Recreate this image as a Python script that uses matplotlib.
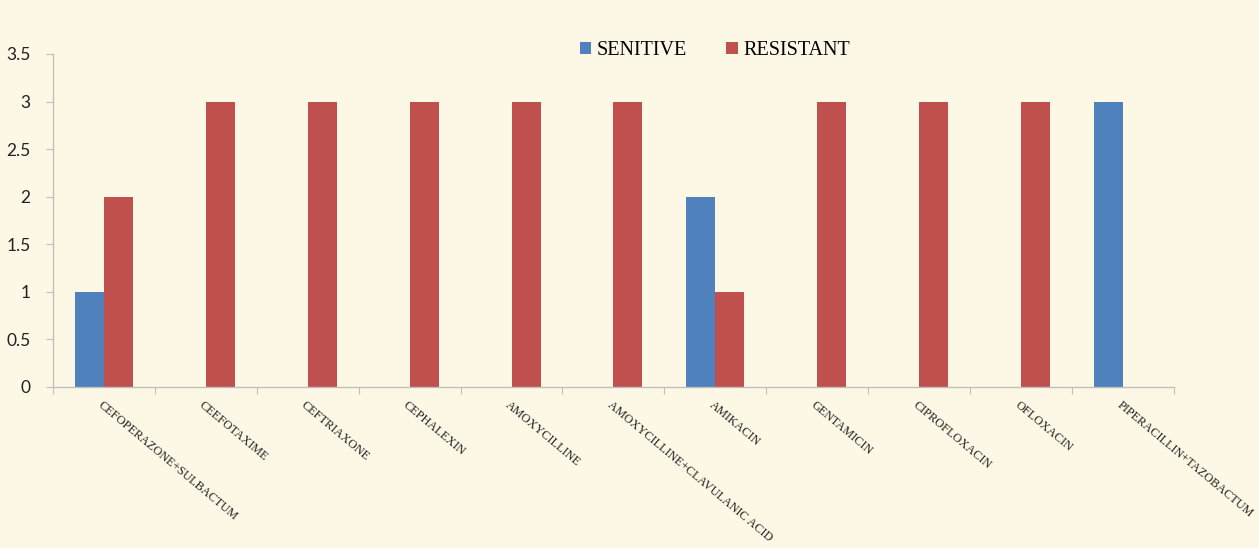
import matplotlib.pyplot as plt
import numpy as np
from matplotlib.ticker import FuncFormatter

drugs = [
    'CEFOPERAZONE+SULBACTUM', 'CEEFOTAXIME', 'CEFTRIAXONE', 'CEPHALEXIN',
    'AMOXYCILLINE', 'AMOXYCILLINE+CLAVULANIC ACID', 'AMIKACIN', 'GENTAMICIN',
    'CIPROFLOXACIN', 'OFLOXACIN', 'PIPERACILLIN+TAZOBACTUM',
]
senitive = [1, 0, 0, 0, 0, 0, 2, 0, 0, 0, 3]
resistant = [2, 3, 3, 3, 3, 3, 1, 3, 3, 3, 0]

bg = '#FDF7E6'
blue = '#4F81BD'
red = '#C0504D'
axis_color = '#BFBFBF'

fig = plt.figure(figsize=(12.59, 5.48), dpi=100, facecolor=bg)
ax = fig.add_axes([0.042, 0.2938, 0.8905, 0.6077])
ax.set_facecolor(bg)

x = np.arange(len(drugs)) + 0.5
w = 0.285
ax.bar(x - w / 2, senitive, width=w, color=blue, label='SENITIVE')
ax.bar(x + w / 2, resistant, width=w, color=red, label='RESISTANT')

ax.set_xlim(0, len(drugs))
ax.set_ylim(0, 3.5)
ax.set_yticks(np.arange(0, 3.51, 0.5))
ax.yaxis.set_major_formatter(FuncFormatter(lambda v, p: f'{v:g}'))

for s in ['top', 'right']:
    ax.spines[s].set_visible(False)
for s in ['left', 'bottom']:
    ax.spines[s].set_color(axis_color)
    ax.spines[s].set_linewidth(1.0)

ax.tick_params(axis='y', colors=axis_color, labelcolor='#222222',
               labelsize=12.5, length=5, direction='out', pad=11)
for lbl in ax.get_yticklabels():
    lbl.set_family('Lato')

# x ticks at category boundaries, labels at centres
ax.set_xticks(np.arange(len(drugs) + 1))
ax.set_xticklabels([])
ax.tick_params(axis='x', colors=axis_color, length=5, direction='out')

for xi, name in zip(x, drugs):
    ax.text(xi - 0.01, -0.13, name, rotation=-40, rotation_mode='anchor',
            ha='left', va='top', fontsize=8.8, family='Liberation Serif',
            color='#222222', transform=ax.transData, clip_on=False)

fig.legend(loc='center', bbox_to_anchor=(0.568, 0.908), ncol=2, frameon=False,
           prop={'family': 'Liberation Serif', 'size': 14.5},
           handlelength=0.55, handleheight=0.55, handletextpad=0.3,
           columnspacing=1.95)

fig.savefig('out.png', dpi=100, facecolor=bg)
